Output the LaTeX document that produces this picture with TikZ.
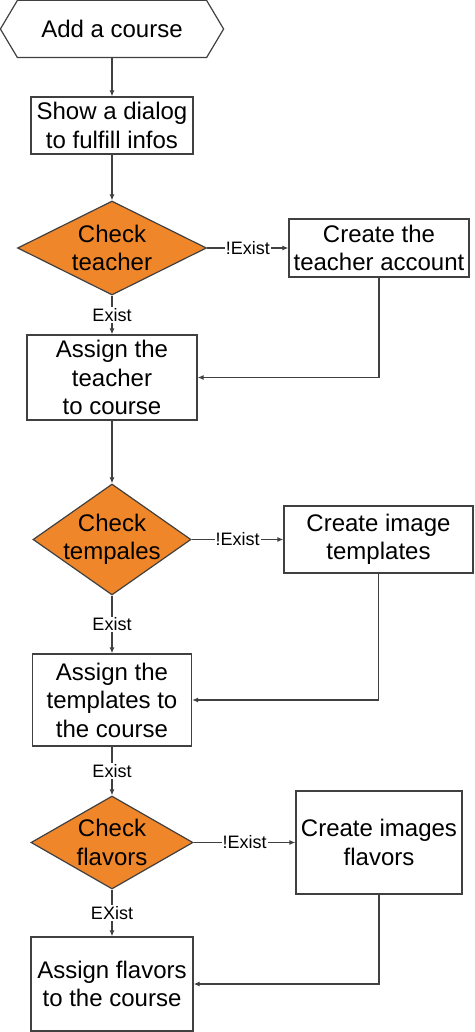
\documentclass[tikz,border=0pt]{standalone}
\usepackage{fontspec}
\setmainfont{Liberation Sans}
\usetikzlibrary{shapes.geometric,arrows.meta}
\definecolor{decisionOrange}{RGB}{240,134,42}
\definecolor{lineGray}{RGB}{64,64,64}
\begin{document}
\begin{tikzpicture}[x=1pt,y=-1pt,line width=1.2pt,
    txt/.style={align=center, inner sep=0pt, font=\fontsize{24}{28.5}\selectfont},
    box/.style={txt, draw=lineGray, rectangle},
    decision/.style={diamond, draw=lineGray, fill=decisionOrange, inner sep=0pt},
    flow/.style={draw=lineGray, -{Latex[length=6pt,width=5pt]}},
    lbl/.style={fill=white, inner sep=1pt, font=\fontsize{18}{20}\selectfont}]
  \useasboundingbox (0,0) rectangle (474,1032);
  % start (hexagon drawn round the node)
  \node[txt, minimum width=222pt, minimum height=56pt] (start) at (112,29) {Add a course};
  \draw[lineGray] (start.west) -- ([xshift=17pt]start.north west) -- ([xshift=-17pt]start.north east)
      -- (start.east) -- ([xshift=-17pt]start.south east) -- ([xshift=17pt]start.south west) -- cycle;
  \node[box, minimum width=162pt, minimum height=57pt] (dlg) at (112,125.5) {Show a dialog\\to fulfill infos};
  % teacher
  \node[decision, minimum width=189pt, minimum height=94pt, label={[txt]center:{Check\\teacher}}] (chkTeacher) at (112,248) {};
  \node[box, minimum width=180pt, minimum height=58pt] (newTeacher) at (379,248) {Create the\\teacher account};
  \node[box, minimum width=170pt, minimum height=85pt] (setTeacher) at (112,377.5) {Assign the\\teacher\\to course};
  % templates
  \node[decision, minimum width=158pt, minimum height=111pt, label={[txt]center:{Check\\tempales}}] (chkTemplates) at (112,539.5) {};
  \node[box, minimum width=189pt, minimum height=67pt] (newTemplates) at (378.5,539.5) {Create image\\templates};
  \node[box, minimum width=159pt, minimum height=92pt] (setTemplates) at (112,700) {Assign the\\templates to\\the course};
  % flavors
  \node[decision, minimum width=162pt, minimum height=93pt, label={[txt]center:{Check\\flavors}}] (chkFlavors) at (112,842.5) {};
  \node[box, minimum width=166pt, minimum height=103pt] (newFlavors) at (379,842.5) {Create images\\flavors};
  \node[box, minimum width=162pt, minimum height=94pt] (setFlavors) at (112,984) {Assign flavors\\to the course};
  % plain connectors
  \draw[flow] (start) -- (dlg);
  \draw[flow] (dlg) -- (chkTeacher);
  \draw[flow] (setTeacher) -- (chkTemplates);
  % labelled connectors
  \foreach \A/\B/\L in {chkTeacher/setTeacher/Exist, chkTemplates/setTemplates/Exist, setTemplates/chkFlavors/Exist,
      chkFlavors/setFlavors/EXist, chkTeacher/newTeacher/!Exist, chkTemplates/newTemplates/!Exist, chkFlavors/newFlavors/!Exist}
      {
      \draw[flow] (\A) -- node[lbl] {\L} (\B);
      }
  % back to the main line
  \foreach \A/\B in {newTeacher/setTeacher, newTemplates/setTemplates, newFlavors/setFlavors}
      {
      \draw[flow] (\A.south) |- (\B.east);
      }
\end{tikzpicture}
\end{document}
